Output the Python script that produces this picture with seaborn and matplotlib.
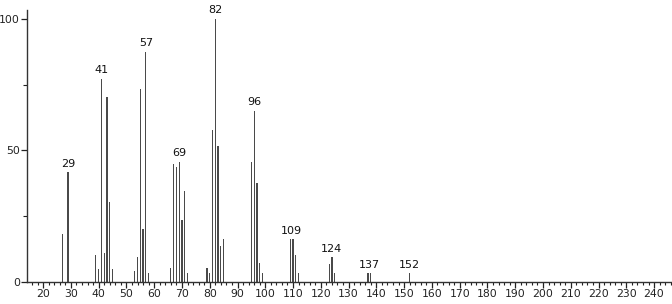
import matplotlib
matplotlib.use("Agg")
import matplotlib.pyplot as plt
import seaborn as sns
import pandas as pd
from matplotlib.ticker import MultipleLocator

# m/z values and relative intensities
mz = [27, 29, 39, 40, 41, 42, 43, 44, 45, 53, 54, 55, 56, 57, 58,
      66, 67, 68, 69, 70, 71, 72, 79, 80, 81, 82, 83, 84, 85,
      95, 96, 97, 98, 99, 109, 110, 111, 112, 123, 124, 125, 137, 138, 152]
intensity = [18.2, 41.6, 10.0, 5.0, 77.2, 10.9, 70.2, 30.3, 5.0, 4.0, 9.4, 73.2, 20.2, 87.4, 3.3,
             5.1, 44.7, 43.8, 45.7, 23.5, 34.4, 3.4, 5.1, 3.3, 57.7, 100.0, 51.8, 13.5, 16.3,
             45.7, 65.0, 37.7, 7.0, 3.4, 16.1, 16.1, 10.0, 3.4, 6.9, 9.3, 3.4, 3.2, 3.2, 3.2]

# labelled peaks
label_mz = [29, 41, 57, 69, 82, 96, 109, 124, 137, 152]
label_text = ["29", "41", "57", "69", "82", "96", "109", "124", "137", "152"]

x_ticks = list(range(20, 241, 10))
y_ticks = [0, 50, 100]

sns.set_theme(style="white")
plt.rcParams['font.family'] = ['DejaVu Sans']

W, H = 672, 304
fig = plt.figure(figsize=(W / 100, H / 100), dpi=100)
left, right, bottom, top = 27, 671, 281.7, 10
ax = fig.add_axes([left / W, (H - bottom) / H, (right - left) / W, (bottom - top) / H])

df = pd.DataFrame({"mz": mz, "intensity": intensity})
sns.barplot(data=df, x="mz", y="intensity", native_scale=True, width=0.45,
            color="#4a4a4a", saturation=1, linewidth=0, ax=ax, errorbar=None)

ax.set_xlim(14.2, 246.1)
ax.set_ylim(0, 103.4)

lookup = dict(zip(mz, intensity))
group_top = {69: 45.7, 137: 3.2, 109: 16.1}
for m, t in zip(label_mz, label_text):
    h = max(lookup[m], group_top.get(m, 0))
    xpos = m + (0.5 if m in (137, 109) else 0)
    ax.text(xpos, h + 1.4, t, ha="center", va="bottom", fontsize=8, color="#111111")

ax.set_xticks(x_ticks)
ax.set_xticklabels([str(v) for v in x_ticks])
ax.xaxis.set_minor_locator(MultipleLocator(2))
ax.set_yticks(y_ticks)
ax.set_yticklabels([str(v) for v in y_ticks])
ax.yaxis.set_minor_locator(MultipleLocator(25))

ax.tick_params(axis="x", which="major", direction="out", length=4, width=0.9,
               colors="#222222", labelsize=7.8, pad=1.5, bottom=True)
ax.tick_params(axis="x", which="minor", direction="out", length=2.5, width=0.8,
               colors="#222222", bottom=True)
ax.tick_params(axis="y", which="major", direction="out", length=4, width=0.9,
               colors="#222222", labelsize=7.8, pad=1, left=True)
ax.tick_params(axis="y", which="minor", direction="out", length=3, width=0.8,
               colors="#222222", left=True)

for s in ("top", "right"):
    ax.spines[s].set_visible(False)
for s in ("left", "bottom"):
    ax.spines[s].set_color("#333333")
    ax.spines[s].set_linewidth(1.0)

ax.set_xlabel("")
ax.set_ylabel("")
ax.grid(False)

fig.savefig("out.png", dpi=100)
